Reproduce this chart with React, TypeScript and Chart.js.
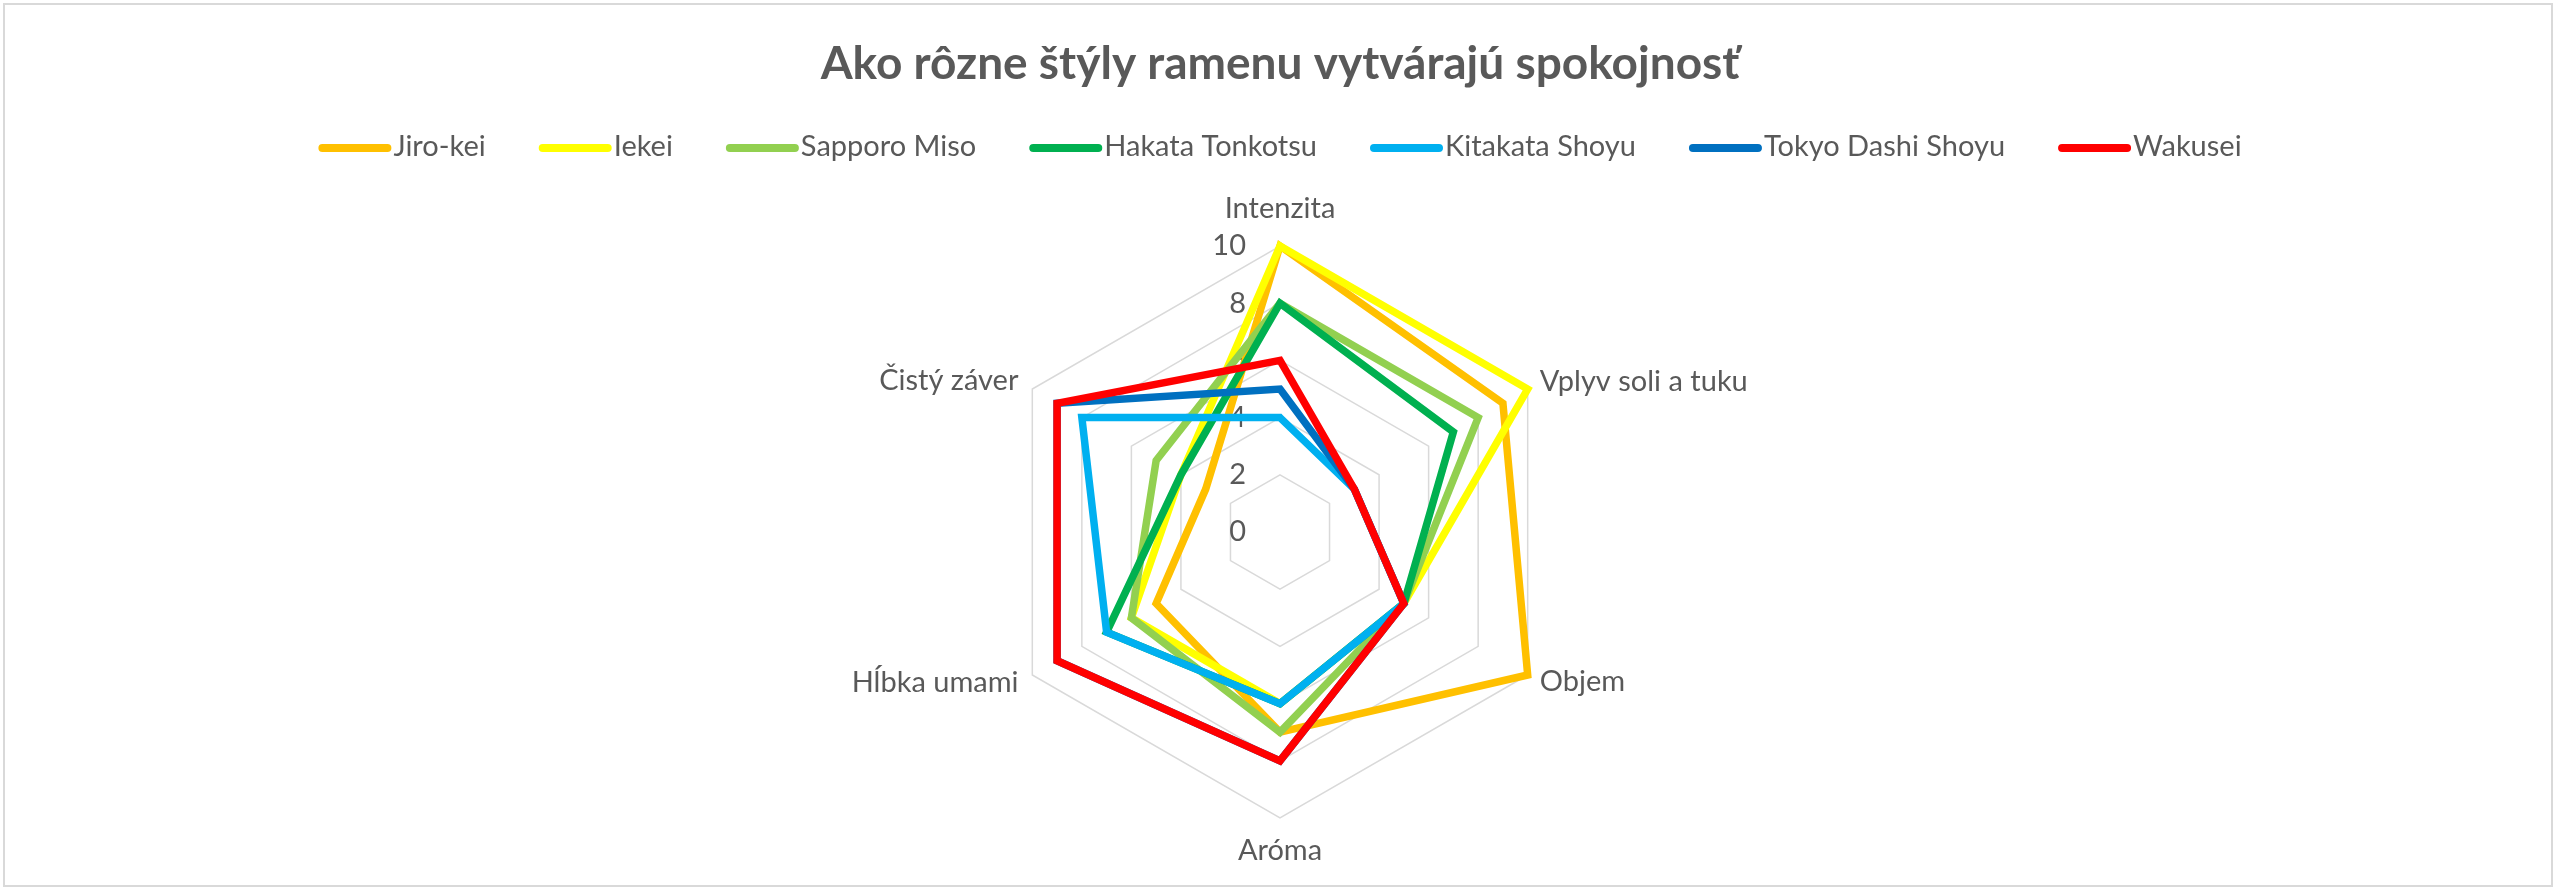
import { useEffect, useRef } from "react";
import { Chart, registerables } from "chart.js";
import type { Plugin } from "chart.js";

Chart.register(...registerables);

const axisLabels = ["Intenzita", "Vplyv soli a tuku", "Objem", "Aróma", "Hĺbka umami", "Čistý záver"];
const seriesNames = ["Jiro-kei", "Iekei", "Sapporo Miso", "Hakata Tonkotsu", "Kitakata Shoyu", "Tokyo Dashi Shoyu", "Wakusei"];
const seriesColors = ["#FFC000", "#FFFF00", "#92D050", "#00B050", "#00B0F0", "#0070C0", "#FF0000"];

const jiroKei = [10, 9, 10, 7, 5, 3];
const iekei = [10, 10, 5, 6, 6, 4];
const sapporoMiso = [8, 8, 5, 7, 6, 5];
const hakataTonkotsu = [8, 7, 5, 6, 7, 4];
const kitakataShoyu = [4, 3, 5, 6, 7, 8];
const tokyoDashiShoyu = [5, 3, 5, 8, 9, 9];
const wakusei = [6, 3, 5, 8, 9, 9];

const seriesValues = [jiroKei, iekei, sapporoMiso, hakataTonkotsu, kitakataShoyu, tokyoDashiShoyu, wakusei];
const tickValues = [0, 2, 4, 6, 8, 10];

const chartTitle = "Ako rôzne štýly ramenu vytvárajú spokojnosť";

const FONT = "Lato, 'Open Sans', sans-serif";
const TEXT = "#595959";

// title, legend, tick labels and point labels drawn Excel-style
const decorPlugin: Plugin<"radar"> = {
  id: "decor",
  beforeDatasetsDraw(chart) {
    const ctx = chart.ctx;
    const scale = chart.scales.r as any;
    const R = scale.drawingArea;
    ctx.save();
    ctx.fillStyle = TEXT;
    ctx.font = `29px ${FONT}`;

    // tick labels, left of the vertical axis
    ctx.textAlign = "right";
    ctx.textBaseline = "middle";
    tickValues.forEach((v) => {
      const p = scale.getPointPositionForValue(0, v);
      ctx.fillText(String(v), scale.xCenter - 34, p.y);
    });

    // point labels
    axisLabels.forEach((label, i) => {
      let p;
      if (i === 0) {
        p = scale.getPointPosition(i, R + 37);
        ctx.textAlign = "center";
      } else if (i === 3) {
        p = scale.getPointPosition(i, R + 33);
        ctx.textAlign = "center";
      } else if (i < 3) {
        p = scale.getPointPosition(i, R + 14);
        ctx.textAlign = "left";
      } else {
        p = scale.getPointPosition(i, R + 16);
        ctx.textAlign = "right";
      }
      ctx.fillText(label, p.x, p.y);
    });
    ctx.restore();
  },
  afterDraw(chart) {
    const ctx = chart.ctx;
    const cx = (chart.scales.r as any).xCenter;
    ctx.save();

    // title
    ctx.fillStyle = TEXT;
    ctx.font = `bold 46px ${FONT}`;
    ctx.textAlign = "center";
    ctx.textBaseline = "alphabetic";
    ctx.fillText(chartTitle, cx, 74);

    // legend
    ctx.font = `29px ${FONT}`;
    ctx.textAlign = "left";
    const markLen = 73;
    const textGap = 2;
    const itemGap = 53;
    const widths = seriesNames.map((n) => ctx.measureText(n).width);
    const total = widths.reduce((a, w) => a + markLen + textGap + w, 0) + itemGap * (seriesNames.length - 1);
    let x = cx - total / 2;
    seriesNames.forEach((name, i) => {
      ctx.strokeStyle = seriesColors[i];
      ctx.lineWidth = 8;
      ctx.lineCap = "round";
      ctx.beginPath();
      ctx.moveTo(x + 4, 143);
      ctx.lineTo(x + markLen - 4, 143);
      ctx.stroke();
      ctx.fillStyle = TEXT;
      ctx.fillText(name, x + markLen + textGap, 151);
      x += markLen + textGap + widths[i] + itemGap;
    });
    ctx.restore();
  },
};

export default function App() {
  const canvasRef = useRef<HTMLCanvasElement>(null);
  const chartRef = useRef<Chart | null>(null);

  useEffect(() => {
    if (!canvasRef.current) return;
    if (chartRef.current) chartRef.current.destroy();

    chartRef.current = new Chart(canvasRef.current, {
      type: "radar",
      data: {
        labels: axisLabels,
        datasets: seriesNames.map((name, i) => ({
          label: name,
          data: seriesValues[i],
          borderColor: seriesColors[i],
          backgroundColor: "transparent",
          borderWidth: 7.5,
          borderJoinStyle: "miter" as const,
          pointRadius: 0,
          pointHoverRadius: 0,
          fill: false,
          order: seriesNames.length - i, // later series on top, like Excel
        })),
      },
      options: {
        animation: false,
        responsive: true,
        maintainAspectRatio: false,
        layout: { padding: { top: 241, bottom: 67, left: 4, right: 0 } },
        plugins: {
          legend: { display: false },
          title: { display: false },
          tooltip: { enabled: false },
        },
        scales: {
          r: {
            min: 0,
            max: 10,
            ticks: { stepSize: 2, display: false },
            pointLabels: { display: false },
            angleLines: { display: false },
            grid: { color: "#D9D9D9", lineWidth: 1.5 },
          },
        },
      },
      plugins: [decorPlugin],
    });

    return () => {
      chartRef.current?.destroy();
      chartRef.current = null;
    };
  }, []);

  return (
    <div
      style={{
        position: "absolute",
        left: 3,
        top: 3,
        width: 2550,
        height: 884,
        border: "2px solid #D9D9D9",
        boxSizing: "border-box",
        background: "#fff",
      }}
    >
      <canvas ref={canvasRef} />
    </div>
  );
}
